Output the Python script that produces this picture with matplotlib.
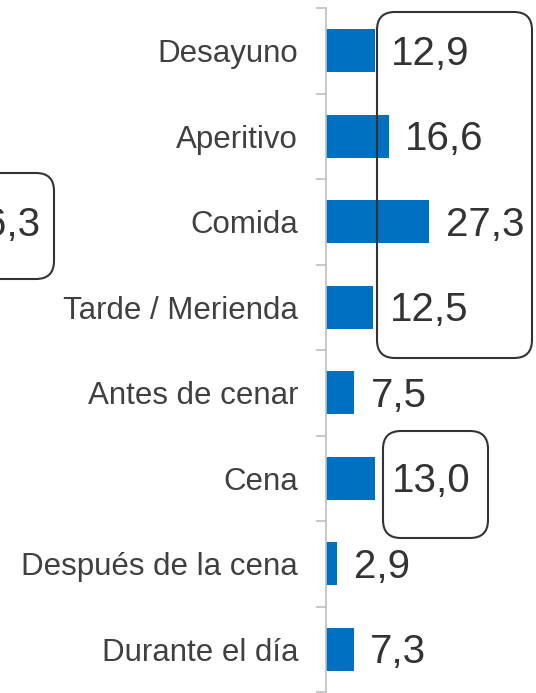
import matplotlib.pyplot as plt
from matplotlib.patches import FancyBboxPatch
import numpy as np

# Datos
categorias = ['Desayuno', 'Aperitivo', 'Comida', 'Tarde / Merienda',
              'Antes de cenar', 'Cena', 'Después de la cena', 'Durante el día']
valores = [12.9, 16.6, 27.3, 12.5, 7.5, 13.0, 2.9, 7.3]
etiquetas = ['12,9', '16,6', '27,3', '12,5', '7,5', '13,0', '2,9', '7,3']

plt.rcParams['font.family'] = ['Liberation Sans', 'DejaVu Sans']

W, H = 536, 693
fig = plt.figure(figsize=(W / 100, H / 100), dpi=100)

# eje: línea vertical en x=326 px, de y=8 a y=692 px
ax = fig.add_axes([326 / W, 1 - 692 / H, 113.1 / W, 684 / H])

y = np.arange(len(categorias))
ax.barh(y, valores, height=0.5, color='#0070C0')
ax.set_xlim(0, 30)
ax.set_ylim(len(categorias) - 0.5, -0.5)

for yi, v, t in zip(y, valores, etiquetas):
    ax.annotate(t, (v, yi), xytext=(12, -2), textcoords='offset points',
                va='center', ha='left', fontsize=29, color='#333333',
                annotation_clip=False)

ax.set_yticks(y)
ax.set_yticklabels(categorias, fontsize=22.5, color='#404040')
ax.set_yticks(np.arange(-0.5, len(categorias)), minor=True)
ax.tick_params(axis='y', which='major', length=0, pad=20)
ax.tick_params(axis='y', which='minor', length=7, color='#BFBFBF', width=1.2)
ax.set_xticks([])
for s in ['top', 'right', 'bottom']:
    ax.spines[s].set_visible(False)
ax.spines['left'].set_color('#BFBFBF')
ax.spines['left'].set_linewidth(1.2)


# recuadros redondeados (en píxeles desde arriba)
def recuadro(x0, y0, x1, y1, r=18):
    p = FancyBboxPatch((x0 / 100, (H - y1) / 100), (x1 - x0) / 100, (y1 - y0) / 100,
                       boxstyle=f'round,pad=0,rounding_size={r / 100}',
                       transform=fig.dpi_scale_trans, fill=False,
                       edgecolor='#333333', linewidth=1.5, zorder=5)
    fig.patches.append(p)


recuadro(377, 12, 532, 358)
recuadro(383, 431, 488, 538)
recuadro(-60, 173, 54, 279)

# texto parcial a la izquierda (cortado por el borde, como en el original)
fig.text(40 / W, 1 - 225 / H, '6,3', ha='right', va='center',
         fontsize=29, color='#333333')

plt.savefig('out.png', dpi=100)
